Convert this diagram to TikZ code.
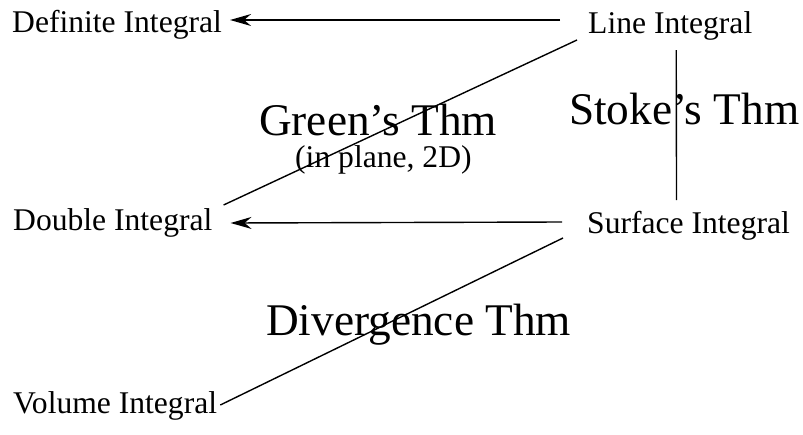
\documentclass[tikz,border=0pt]{standalone}
\usepackage{fontspec}
\setmainfont{Liberation Serif}
\usetikzlibrary{arrows.meta}
\tikzset{
  lbl/.style={inner sep=0pt, anchor=base west, font=\fontsize{31.6}{36}\selectfont},
  thm/.style={inner sep=0pt, anchor=base west, font=\fontsize{45.3}{52}\selectfont},
  conn/.style={line width=1.4pt},
  arr/.style={conn, -{Stealth[length=21pt,width=12pt,inset=7pt]}}
}
\begin{document}
\begin{tikzpicture}[x=1pt,y=-1pt]
\useasboundingbox (0,0) rectangle (803,434);
\node[lbl] (def) at (12,32) {Definite Integral};
\node[lbl] (line) at (588,33) {Line Integral};
\node[lbl] (dbl) at (13,230) {Double Integral};
\node[lbl] (surf) at (587,233) {Surface Integral};
\node[lbl] (vol) at (13,413) {Volume Integral};
\node[thm] (green) at (259,135) {Green’s Thm};
\node[lbl] (plane) at (295,167) {(in plane, 2D)};
\node[thm] (stoke) at (569,124) {Stoke’s Thm};
\node[thm] (div) at (266,335) {Divergence Thm};
\draw[arr] ([shift={(-28pt,13pt)}]line.base west) -- ([shift={(8pt,12pt)}]def.base east);
\draw[conn] ([shift={(-11pt,-7pt)}]line.base west) -- ([shift={(11pt,25pt)}]dbl.base east);
\draw[conn] ([shift={(6pt,-17pt)}]line.base) -- ([shift={(-12pt,33pt)}]surf.base);
\draw[arr] ([shift={(-25pt,11pt)}]surf.base west) -- ([shift={(18pt,7pt)}]dbl.base east);
\draw[conn] ([shift={(-24pt,-5pt)}]surf.base west) -- ([shift={(3pt,8pt)}]vol.base east);
\end{tikzpicture}
\end{document}
